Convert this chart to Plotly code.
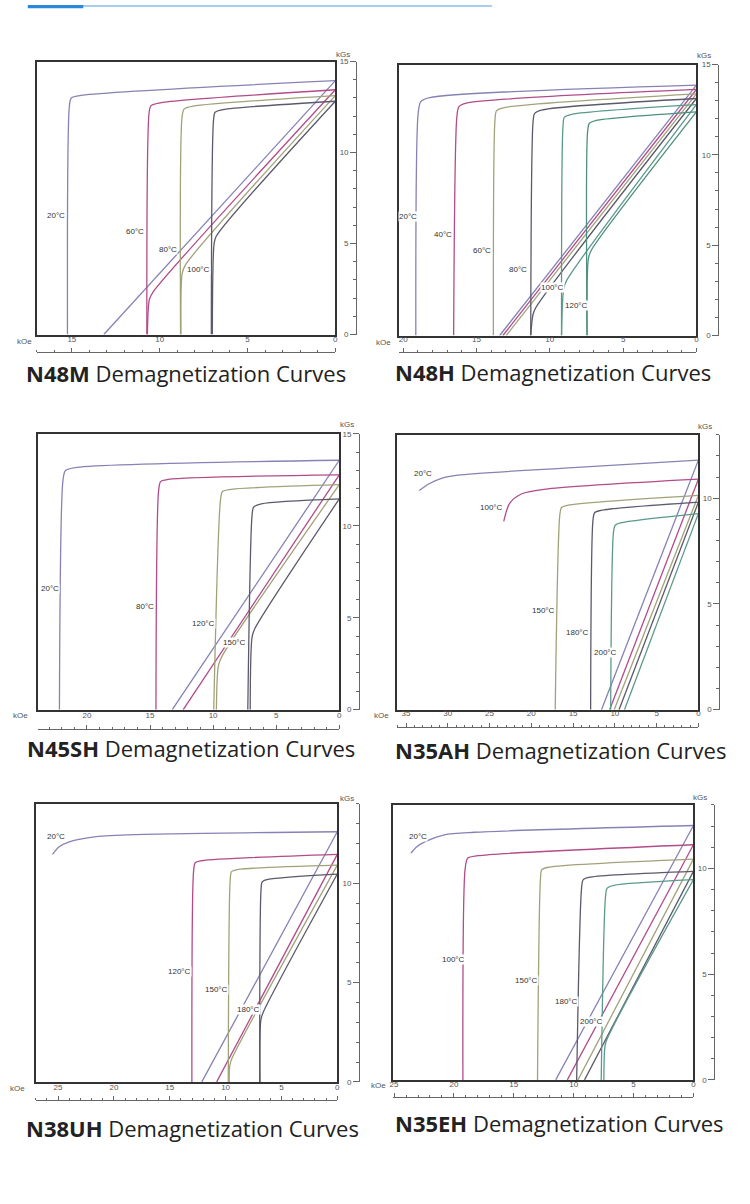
import plotly.graph_objects as go

W = 750
H = 1204

# ---- N48M ----
N48M_TEMPS = ["20°C", "60°C", "80°C", "100°C"]
N48M_J_H = [[0, 14.4, 15.03, 15.14, 15.25],
            [0, 9.98, 10.49, 10.6, 10.73],
            [0, 8.1, 8.6, 8.72, 8.81],
            [0, 6.4, 6.84, 6.93, 7.06]]
N48M_J_B = [[13.95, 13.15, 13.0, 12.55, 0],
            [13.45, 12.73, 12.58, 12.2, 0],
            [13.13, 12.55, 12.4, 12.0, 0],
            [12.82, 12.36, 12.22, 11.82, 0]]
N48M_B_H = [[0, 13.18],
            [0, 10.36, 10.58, 10.7],
            [0, 8.55, 8.72, 8.79],
            [0, 6.78, 6.9, 7.0]]
N48M_B_B = [[13.95, 0],
            [13.45, 2.36, 1.95, 0],
            [13.13, 3.8, 3.35, 0],
            [12.82, 5.4, 5.0, 0]]

# ---- N48H ----
N48H_TEMPS = ["20°C", "40°C", "60°C", "80°C", "100°C", "120°C"]
N48H_J_H = [[0, 18.2, 18.8, 18.98, 19.14],
            [0, 15.7, 16.2, 16.34, 16.56],
            [0, 13.1, 13.63, 13.74, 13.85],
            [0, 10.5, 11.03, 11.14, 11.3],
            [0, 8.47, 9.0, 9.1, 9.2],
            [0, 6.87, 7.3, 7.42, 7.46]]
N48H_J_B = [[13.86, 13.17, 12.95, 12.3, 0],
            [13.62, 12.86, 12.67, 12.1, 0],
            [13.38, 12.62, 12.45, 11.94, 0],
            [13.12, 12.49, 12.3, 11.85, 0],
            [12.78, 12.25, 12.09, 11.58, 0],
            [12.38, 11.9, 11.75, 11.3, 0]]
N48H_B_H = [[0, 13.42],
            [0, 13.2],
            [0, 12.97],
            [0, 10.95, 11.15, 11.3],
            [0, 8.85, 9.05, 9.2],
            [0, 7.15, 7.36, 7.46]]
N48H_B_B = [[13.86, 0],
            [13.62, 0],
            [13.38, 0],
            [13.12, 1.55, 1.15, 0],
            [12.78, 3.05, 2.6, 0],
            [12.38, 4.75, 4.3, 0]]

# ---- N45SH ----
N45SH_TEMPS = ["20°C", "80°C", "120°C", "150°C"]
N45SH_J_H = [[0, 20.8, 21.7, 21.9, 22.18],
             [0, 13.55, 14.16, 14.32, 14.53],
             [0, 8.55, 9.26, 9.42, 9.95],
             [0, 6.18, 6.79, 6.92, 7.25]]
N45SH_J_B = [[13.56, 13.17, 13.0, 12.45, 0],
             [12.77, 12.52, 12.4, 11.9, 0],
             [12.23, 11.98, 11.86, 11.37, 0],
             [11.46, 11.19, 11.01, 10.5, 0]]
N45SH_B_H = [[0, 13.24],
             [0, 12.37],
             [0, 9.3, 9.58, 9.74],
             [0, 6.66, 6.9, 7.06]]
N45SH_B_B = [[13.56, 0],
             [12.77, 0],
             [12.23, 2.9, 2.4, 0],
             [11.46, 4.45, 4.0, 0]]

# ---- N35AH ----
N35AH_TEMPS = ["20°C", "100°C", "150°C", "180°C", "200°C"]
N35AH_J_H = [[0, 15.0, 28.8, 30.75, 32.3, 33.4],
             [0, 18.0, 21.2, 22.6, 23.3],
             [0, 15.67, 16.39, 16.59, 17.14],
             [0, 11.7, 12.42, 12.62, 12.9],
             [0, 9.33, 9.96, 10.16, 10.5]]
N35AH_J_B = [[11.8, 11.45, 11.09, 10.94, 10.67, 10.36],
             [10.9, 10.44, 10.2, 9.75, 8.9],
             [10.13, 9.66, 9.55, 9.2, 0],
             [9.81, 9.42, 9.31, 8.95, 0],
             [9.27, 8.83, 8.72, 8.4, 0]]
N35AH_B_H = [[0, 11.6], [0, 10.63], [0, 10.08], [0, 9.5], [0, 8.85]]
N35AH_B_B = [[11.8, 0], [10.9, 0], [10.13, 0], [9.81, 0], [9.27, 0]]

# ---- N38UH ----
N38UH_TEMPS = ["20°C", "120°C", "150°C", "180°C"]
N38UH_J_H = [[0, 18.0, 21.6, 24.0, 24.9, 25.5],
             [0, 12.13, 12.72, 12.87, 13.02],
             [0, 8.88, 9.47, 9.59, 9.76],
             [0, 6.21, 6.72, 6.83, 6.95]]
N38UH_J_B = [[12.6, 12.46, 12.35, 12.09, 11.84, 11.46],
             [11.46, 11.14, 11.04, 10.59, 0],
             [10.92, 10.7, 10.59, 10.17, 0],
             [10.47, 10.2, 10.08, 9.66, 0]]
N38UH_B_H = [[0, 12.13],
             [0, 10.8],
             [0, 9.41, 9.62, 9.68],
             [0, 6.66, 6.85, 6.92]]
N38UH_B_B = [[12.6, 0],
             [11.46, 0],
             [10.92, 1.21, 0.85, 0],
             [10.47, 3.47, 3.1, 0]]

# ---- N35EH ----
N35EH_TEMPS = ["20°C", "100°C", "150°C", "180°C", "200°C"]
N35EH_J_H = [[0, 18.3, 20.8, 22.4, 23.1, 23.6],
             [0, 18.0, 18.84, 19.06, 19.25],
             [0, 12.05, 12.66, 12.77, 13.02],
             [0, 8.59, 9.2, 9.34, 9.75],
             [0, 6.65, 7.2, 7.34, 7.7]]
N35EH_J_B = [[12.03, 11.71, 11.59, 11.27, 11.03, 10.72],
             [11.12, 10.6, 10.49, 10.0, 0],
             [10.44, 10.06, 9.94, 9.54, 0],
             [9.86, 9.59, 9.47, 9.07, 0],
             [9.47, 9.2, 9.07, 8.68, 0]]
N35EH_B_H = [[0, 11.5], [0, 10.53], [0, 9.64], [0, 9.09], [0, 7.3, 7.42, 7.48]]
N35EH_B_B = [[12.03, 0], [11.12, 0], [10.44, 0], [9.86, 0], [9.47, 1.8, 1.4, 0]]

# 温度ごとの線色 (順番で決まる)
PALETTE = ["#8682b6", "#b24b8a", "#a2a27a", "#5a5a6c", "#5b9a8b", "#4f8f7f"]
FRAME_COLOR = "#333333"
RULER_COLOR = "#666666"
TICK_FONT = dict(family="Liberation Sans, Arial", size=8, color="#555555")

# パネル配置 (ピクセル)
panels = [
    dict(name="N48M", temps=N48M_TEMPS, jh=N48M_J_H, jb=N48M_J_B, bh=N48M_B_H, bb=N48M_B_B,
         frame=(34, 335, 58, 333), xmax=17.0, ymax=15, ruler_y=351.5, ruler_x=357,
         koe=(22, 340), kgs=(343, 51), title=(184, 372),
         labels=[(15.93, 6.55), (11.41, 5.67), (9.55, 4.69), (7.8, 3.6)]),
    dict(name="N48H", temps=N48H_TEMPS, jh=N48H_J_H, jb=N48H_J_B, bh=N48H_B_H, bb=N48H_B_B,
         frame=(399, 699, 61, 334), xmax=20.3, ymax=15, ruler_y=352, ruler_x=722,
         koe=(384, 341), kgs=(707, 52), title=(554, 371),
         labels=[(19.66, 6.59), (17.29, 5.6), (14.64, 4.73), (12.14, 3.68), (9.83, 2.64), (8.2, 1.65)]),
    dict(name="N45SH", temps=N45SH_TEMPS, jh=N45SH_J_H, jb=N45SH_J_B, bh=N45SH_B_H, bb=N45SH_B_B,
         frame=(35, 339, 433, 711), xmax=23.9, ymax=15, ruler_y=731, ruler_x=360,
         koe=(18, 717), kgs=(347, 424), title=(190, 750),
         labels=[(22.9, 6.58), (15.4, 5.61), (10.8, 4.7), (8.29, 3.67)]),
    dict(name="N35AH", temps=N35AH_TEMPS, jh=N35AH_J_H, jb=N35AH_J_B, bh=N35AH_B_H, bb=N35AH_B_B,
         frame=(397, 701, 434, 711), xmax=36.1, ymax=13, ruler_y=729, ruler_x=723,
         koe=(382, 717), kgs=(708, 426), title=(562, 752),
         labels=[(33.0, 11.16), (24.76, 9.56), (18.57, 4.69), (14.52, 3.66), (11.07, 2.72)]),
    dict(name="N38UH", temps=N38UH_TEMPS, jh=N38UH_J_H, jb=N38UH_J_B, bh=N38UH_B_H, bb=N38UH_B_B,
         frame=(33, 337, 806, 1086), xmax=27.0, ymax=14, ruler_y=1105, ruler_x=360,
         koe=(15, 1093), kgs=(347, 800), title=(191, 1132),
         labels=[(25.2, 12.36), (14.1, 5.58), (10.83, 4.67), (7.99, 3.67)]),
    dict(name="N35EH", temps=N35EH_TEMPS, jh=N35EH_J_H, jb=N35EH_J_B, bh=N35EH_B_H, bb=N35EH_B_B,
         frame=(393, 696, 807, 1084), xmax=25.1, ymax=13, ruler_y=1102, ruler_x=718,
         koe=(379, 1090), kgs=(703, 799), title=(561, 1127),
         labels=[(23.0, 11.5), (20.0, 5.71), (13.95, 4.72), (10.63, 3.73), (8.55, 2.74)]),
]


def fx(p):
    return p / W


def fy(p):
    return 1 - p / H


def ax_name(kind, n):
    return kind + "axis" + ("" if n == 1 else str(n))


def ax_ref(kind, n):
    return kind + ("" if n == 1 else str(n))


def paper_text(x, y, text, font):
    return dict(x=fx(x), y=fy(y), xref="paper", yref="paper", text=text, showarrow=False,
                xanchor="center", yanchor="middle", font=font)


fig = go.Figure()
layout = dict(width=W, height=H, autosize=False, margin=dict(l=0, r=0, t=0, b=0),
              paper_bgcolor="white", plot_bgcolor="white", showlegend=False)
annotations = []

for i, p in enumerate(panels):
    a, b, c = 3 * i + 1, 3 * i + 2, 3 * i + 3
    x0, x1, y0, y1 = p["frame"]
    xdom = [fx(x0), fx(x1)]
    ydom = [fy(y1), fy(y0)]

    # 枠
    frame_axis = dict(showline=True, mirror=True, linecolor=FRAME_COLOR, linewidth=1.6,
                      ticks="", showticklabels=False, showgrid=False, zeroline=False)
    layout[ax_name("x", a)] = dict(frame_axis, domain=xdom, range=[p["xmax"], 0], anchor=ax_ref("y", a))
    layout[ax_name("y", a)] = dict(frame_axis, domain=ydom, range=[0, p["ymax"]], anchor=ax_ref("x", a))

    # 下の目盛り (kOe)
    ry = fy(p["ruler_y"])
    layout[ax_name("x", b)] = dict(domain=xdom, range=[p["xmax"], 0], anchor=ax_ref("y", b), side="top",
                                   showline=True, linecolor=RULER_COLOR, linewidth=1,
                                   ticks="outside", ticklen=4, tickwidth=1, tickcolor=RULER_COLOR,
                                   ticklabelstandoff=3,
                                   tick0=0, dtick=5, tickfont=TICK_FONT, showgrid=False, zeroline=False,
                                   minor=dict(dtick=1, tick0=0, ticks="outside", ticklen=2,
                                              tickcolor=RULER_COLOR, showgrid=False))
    layout[ax_name("y", b)] = dict(domain=[ry - 0.002, ry], range=[0, 1], anchor=ax_ref("x", b),
                                   showline=False, showticklabels=False, ticks="", showgrid=False,
                                   zeroline=False)

    # 右の目盛り (kGs)
    rx = fx(p["ruler_x"])
    layout[ax_name("y", c)] = dict(domain=ydom, range=[0, p["ymax"]], anchor=ax_ref("x", c), side="left",
                                   showline=True, linecolor=RULER_COLOR, linewidth=1,
                                   ticks="outside", ticklen=6, tickwidth=1, tickcolor=RULER_COLOR,
                                   tick0=0, dtick=5, tickfont=TICK_FONT, showgrid=False, zeroline=False,
                                   minor=dict(dtick=1, tick0=0, ticks="outside", ticklen=3,
                                              tickcolor=RULER_COLOR, showgrid=False))
    layout[ax_name("x", c)] = dict(domain=[rx, rx + 0.002], range=[0, 1], anchor=ax_ref("y", c),
                                   showline=False, showticklabels=False, ticks="", showgrid=False,
                                   zeroline=False)

    # 目盛り用の空トレース (サブプロットを作らせる)
    for n in (b, c):
        fig.add_trace(go.Scatter(x=[None], y=[None], mode="lines", xaxis=ax_ref("x", n),
                                 yaxis=ax_ref("y", n), hoverinfo="skip", showlegend=False))

    # 曲線
    for k, t in enumerate(p["temps"]):
        for hs, bs in ((p["jh"][k], p["jb"][k]), (p["bh"][k], p["bb"][k])):
            fig.add_trace(go.Scatter(x=hs, y=bs, mode="lines",
                                     line=dict(color=PALETTE[k], width=1.3, shape="spline", smoothing=0.8),
                                     xaxis=ax_ref("x", a), yaxis=ax_ref("y", a),
                                     hoverinfo="skip", showlegend=False))
        lx, ly = p["labels"][k]
        annotations.append(dict(x=lx, y=ly, xref=ax_ref("x", a), yref=ax_ref("y", a), text=t,
                                showarrow=False, bgcolor="white", borderpad=0,
                                xanchor="center", yanchor="middle",
                                font=dict(family="Liberation Sans, Arial", size=8, color="#333333")))

    # 単位とタイトル
    annotations.append(paper_text(p["koe"][0], p["koe"][1], "kOe", TICK_FONT))
    annotations.append(paper_text(p["kgs"][0], p["kgs"][1], "kGs", TICK_FONT))
    annotations.append(paper_text(p["title"][0], p["title"][1],
                                  "<b>" + p["name"] + "</b> Demagnetization Curves",
                                  dict(family="Open Sans", size=22, color="#222222")))

layout["annotations"] = annotations
layout["shapes"] = [
    dict(type="line", xref="paper", yref="paper", x0=fx(81), x1=fx(493), y0=fy(2), y1=fy(2),
         line=dict(color="#4aa0d8", width=1)),
    dict(type="rect", xref="paper", yref="paper", x0=fx(25), x1=fx(81), y0=fy(4.3), y1=fy(1),
         fillcolor="#2a8ad8", line=dict(width=0)),
]
fig.update_layout(layout)

# ページの余白を消す
fig.write_html("out.html", config={"displayModeBar": False},
               post_script="document.body.style.margin='0';document.body.style.overflow='hidden';")
